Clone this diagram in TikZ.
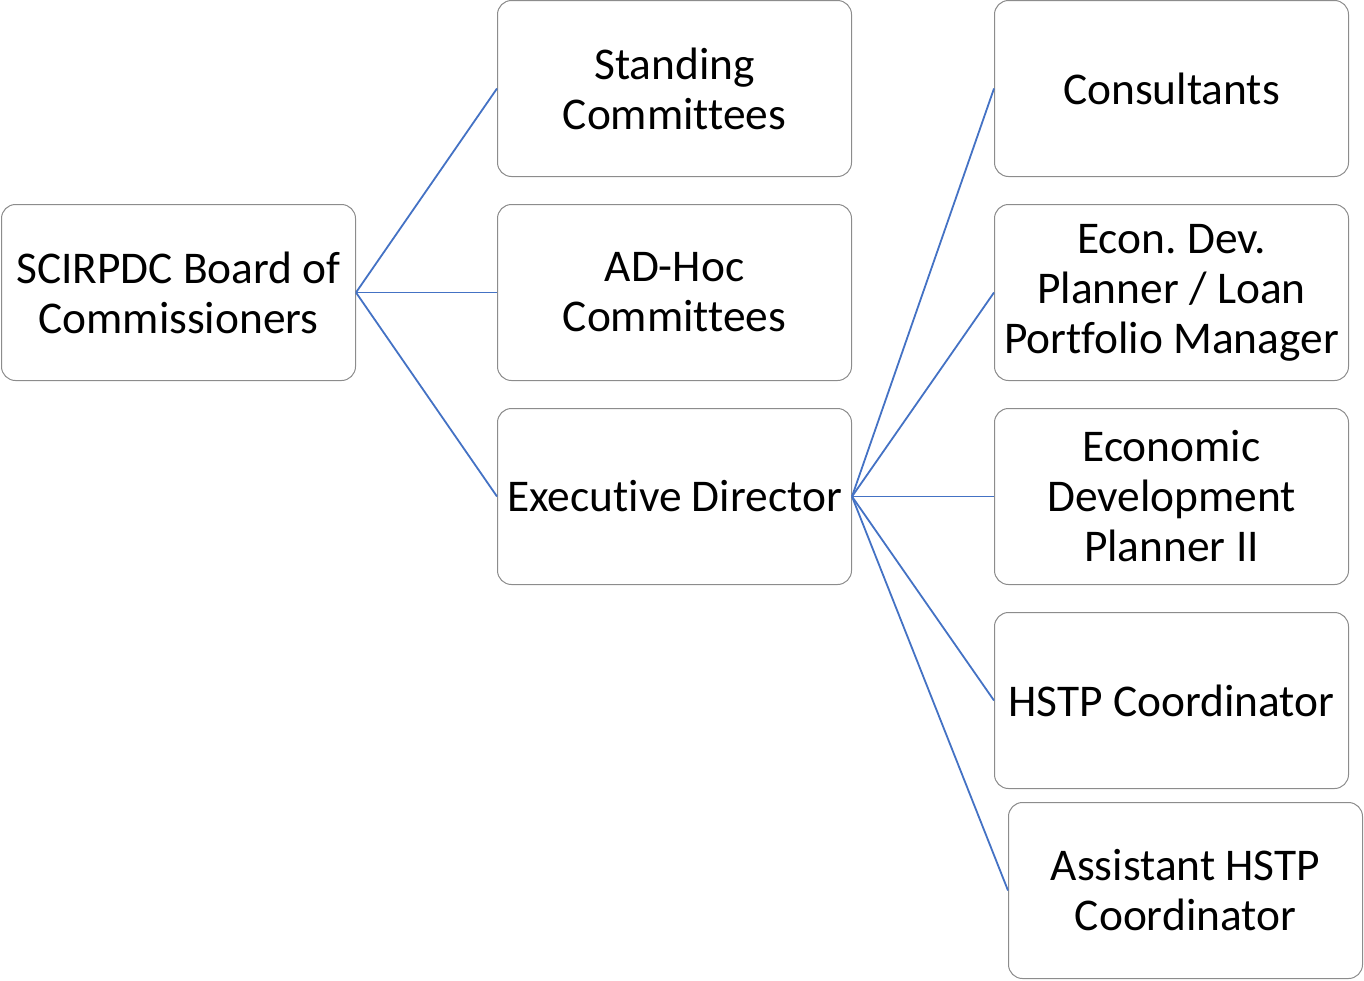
\documentclass[tikz,border=0pt]{standalone}
\usepackage{fontspec}
\setmainfont{Carlito}[Ligatures={NoCommon}]
\frenchspacing
\definecolor{linkblue}{HTML}{4472C4}
\begin{document}
\begin{tikzpicture}[x=0.5pt,y=-0.5pt,
    box/.style={draw=black!45, line width=0.5pt, rounded corners=7pt, fill=white,
        minimum width=177pt, minimum height=88pt, inner sep=0pt, align=center,
        font=\fontsize{22.7}{25}\selectfont},
    link/.style={draw=linkblue, line width=0.9pt}]
    \useasboundingbox (0,0) rectangle (1364,980);
    % Board and its committees
    \node[box] (board) at (178.5,292.5) {SCIRPDC Board of\\Commissioners};
    \node[box] (standing) at (674.5,88.5) {Standing\\Committees};
    \node[box] (adhoc) at (674.5,292.5) {AD-Hoc\\Committees};
    \node[box] (exec) at (674.5,496.5) {Executive Director};
    % Staff
    \node[box] (consult) at (1171.5,88.5) {Consultants};
    \node[box] (econdev) at (1171.5,292.5) {Econ. Dev.\\Planner / Loan\\Portfolio Manager};
    \node[box] (planner) at (1171.5,496.5) {Economic\\Development\\Planner II};
    \node[box] (hstp) at (1171.5,700.5) {HSTP Coordinator};
    \node[box] (assist) at (1185.5,890.5) {Assistant HSTP\\Coordinator};
    % Links
    \foreach \n in {standing,adhoc,exec}
        \draw[link] (board.east) -- (\n.west);
    \foreach \n in {consult,econdev,planner,hstp,assist}
        \draw[link] (exec.east) -- (\n.west);
\end{tikzpicture}
\end{document}
